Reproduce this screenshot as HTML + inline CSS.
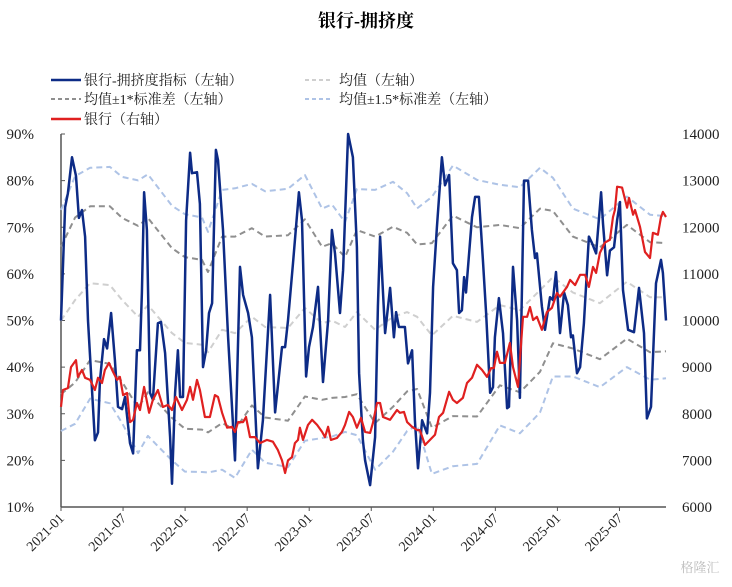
<!DOCTYPE html>
<html><head><meta charset="utf-8">
<style>
html,body{margin:0;padding:0;background:#fff;}
body{width:732px;height:582px;overflow:hidden;font-family:"Liberation Serif","Noto Serif CJK SC",serif;}
svg text{font-family:"Liberation Serif","Noto Serif CJK SC",serif;}
</style></head>
<body>
<svg id="chart" width="732" height="582" xmlns="http://www.w3.org/2000/svg">
<text x="366" y="27" text-anchor="middle" font-size="18" font-weight="bold" fill="#000">银行-拥挤度</text>
<g font-size="14" fill="#222">
 <g><line x1="51" y1="80" x2="81" y2="80" stroke="#0d2b86" stroke-width="2.5"/><text x="84" y="85">银行-拥挤度指标（左轴）</text></g>
 <g><line x1="305" y1="80" x2="333" y2="80" stroke="#cfcfcf" stroke-width="2" stroke-dasharray="4,3"/><text x="339" y="85">均值（左轴）</text></g>
 <g><line x1="51" y1="99" x2="81" y2="99" stroke="#8f8f8f" stroke-width="2" stroke-dasharray="4,3"/><text x="84" y="104">均值±1*标准差（左轴）</text></g>
 <g><line x1="305" y1="99" x2="333" y2="99" stroke="#aec3e6" stroke-width="2" stroke-dasharray="4,3"/><text x="339" y="104">均值±1.5*标准差（左轴）</text></g>
 <g><line x1="51" y1="119" x2="81" y2="119" stroke="#e02020" stroke-width="2.5"/><text x="84" y="124">银行（右轴）</text></g>
</g>
<g id="axes"></g>
<g id="series"></g>
<text x="700" y="572" text-anchor="middle" font-size="13" fill="#bbb">格隆汇</text>
</svg>
<script>
const blueWeeks=[0,1.7,2.9,4.6,6.3,7.5,8.8,10.1,11.3,14.2,15.5,16.3,18.0,19.3,21.0,22.6,23.9,25.6,26.8,28.9,30.2,31.8,33.1,33.9,34.8,36.0,37.3,38.5,40.6,41.9,43.6,45.7,46.5,47.8,49.0,49.9,51.1,52.4,54.1,54.9,57.0,58.2,59.5,60.8,62.0,63.3,64.9,65.8,67.9,70.0,72.9,75.0,76.3,78.4,80.0,82.5,84.6,87.6,89.7,92.6,93.9,95.1,97.2,99.7,101.0,102.7,103.9,105.6,107.7,109.8,111.9,113.5,114.8,116.9,118.2,120.3,122.3,124.0,124.9,126.5,127.4,129.5,131.6,132.8,133.7,135.8,137.9,139.5,140.4,141.6,144.1,145.4,147.1,148.3,149.6,151.3,153.4,154.6,155.9,157.5,159.6,160.9,162.6,164.2,165.9,166.8,168.0,168.9,169.7,172.2,173.5,175.1,176.8,178.1,179.8,181.0,181.8,183.5,185.2,186.9,187.7,189.4,191.1,192.3,194.0,195.7,197.3,198.6,199.4,201.5,202.8,204.9,206.1,207.4,209.1,210.8,212.4,213.7,214.5,216.2,217.5,219.1,221.2,222.5,224.2,226.3,227.1,228.8,230.0,231.7,233.0,234.2,235.5,237.6,240.1,242.2,244.3,245.5,247.2,249.3,251.4,252.2,253.5];
const blueValues=[50,74.3,77.3,85,81,72,73.7,68,50,24.3,26,37,46,44,51.6,41.5,31.5,31,33.6,23.7,21.5,43.6,43.6,56,77.5,69.4,34.5,33,49.4,49.7,43,25,15,34.5,43.6,33.6,33.6,71.5,86,81.6,81.8,75,40,43.6,51.6,53.7,86.6,84.4,69.4,46.4,20,61.5,55.5,51.6,46.4,18.3,28.6,55.5,30.3,44.3,44.3,50,62.3,77.5,71.5,38,44.3,48.6,57.2,36.8,50,69.4,64.4,51.6,60.8,90,85,65.7,38.7,24.3,20,14.7,25,53,68,47.3,57,46.4,51.8,48.6,48.6,40.8,43.6,28.6,18.3,28.6,25.8,34.5,57.2,70,85,79,81.2,62.3,60.8,51.6,52.2,59.3,56,72.2,76.5,76.5,63,51.6,34.5,35.7,46.4,54.8,47.3,31.2,31.5,61.5,50,33.4,80,80,69.4,63.4,64.4,53,48,55,54.4,60.4,47.3,56,53.3,46.4,46.8,38.7,40,49.4,68,66.6,64.4,77.5,70.8,59.7,65,65.7,71.5,75.4,56.5,48,47.5,57,47.3,29,31.5,58,63,60.2,50];
const redWeeks=[0,0.8,2.9,4.2,6.3,7.1,8.8,10.1,12.2,14.2,15.5,17.2,18.4,20.1,21.8,23.5,24.7,26.0,27.7,28.9,30.2,31.8,33.1,34.8,36.9,38.5,40.6,42.7,44.8,46.5,48.2,50.7,52.8,54.1,55.3,57.0,58.2,60.3,62.4,64.5,65.8,67.5,69.6,71.6,72.9,74.2,76.3,77.5,79.2,81.3,83.4,86.3,88.8,90.9,92.6,93.9,95.1,96.8,98.0,99.3,100.1,101.4,103.5,105.2,107.3,109.4,110.6,111.9,113.1,115.6,117.7,119.0,120.7,122.3,124.0,125.7,127.4,129.5,130.7,132.4,133.7,134.9,137.9,140.8,142.0,143.7,145.0,147.1,149.2,150.4,152.5,154.6,156.7,158.4,160.1,162.6,164.2,165.9,168.4,170.1,172.2,174.3,176.4,178.5,180.2,181.4,182.7,183.9,186.0,188.1,189.4,191.5,193.6,195.3,196.5,197.8,199.4,201.5,203.6,205.7,207.8,209.1,212.0,213.3,215.4,217.5,219.6,221.2,222.9,224.2,225.8,227.9,230.0,231.3,232.1,233.0,235.1,237.2,238.0,239.7,240.5,242.6,244.7,246.8,248.0,250.1,251.4,252.2,253.5];
const redValues=[8146,8510,8550,9000,9150,8790,8940,8770,8725,8510,8770,8660,8940,9090,8900,8725,8790,8400,8445,7820,7870,8230,8080,8575,8020,8300,8510,8145,8190,8080,8360,8080,8300,8575,8300,8725,8510,7930,7930,8400,8360,8020,7700,7720,7610,7820,7820,7930,7500,7500,7370,7440,7400,7220,7000,6730,7000,7070,7370,7440,7700,7440,7760,7870,7760,7610,7500,7720,7440,7480,7610,7760,8040,7930,7700,7910,7610,7590,7800,8230,8230,7930,7870,8080,8020,8040,7820,7720,7650,7650,7330,7440,7550,7930,8020,8470,8300,8230,8340,8660,8770,9050,8940,8790,8980,8980,9330,9090,9090,9520,9000,8575,10080,10080,10290,10010,10080,9800,10180,10270,10590,10510,10720,10870,10760,10980,10980,10720,11150,11020,11450,11670,11730,12220,12370,12870,12850,12420,12630,12270,12370,12010,11470,11340,11880,11840,12220,12330,12220];
const bandWeeks=[0,5.9,12.2,20.5,25.6,32.3,36.4,40.6,46.5,51.9,59.1,61.6,67.5,72.9,80.0,85.5,95.1,102.2,109.4,113.5,119.0,124.0,131.6,139.1,145.0,149.2,155.4,164.2,174.3,183.9,192.3,200.7,206.1,214.5,225.8,237.1,246.8,253.5];
const meanValues=[50,54.4,58,57.6,54.4,50.8,53.3,50.8,47.3,45.2,44.8,43.2,48,47.3,50.8,48.6,48.4,52.7,49.4,50,48.6,51.8,48,50.8,51.8,50.8,46.8,51,49.7,53.3,52.2,56.5,59.3,56,53.7,58.3,55,55];
const sdValues=[15.8,17.7,16.5,16.9,17.6,19.5,18.7,18.5,18.2,18.4,18.2,17.2,20,20.7,19,19.4,19.9,19,16.4,16.6,15,17.6,20,19.3,17,15.5,19.8,21.5,20.3,17.2,17.6,17.5,14.2,12,12,12.2,11.8,11.6];
const leftTicks=[10,20,30,40,50,60,70,80,90];
const rightTicks=[6000,7000,8000,9000,10000,11000,12000,13000,14000];
const xTickLabels=["2021-01","2021-07","2022-01","2022-07","2023-01","2023-07","2024-01","2024-07","2025-01","2025-07"];

const NS="http://www.w3.org/2000/svg";
const X0=61,X1=666,YT=134,YB=507,WMAX=253.5;
const xs=w=>X0+(X1-X0)*w/WMAX;
const yl=v=>YB-(v-10)/80*(YB-YT);
const yr=v=>YB-(v-6000)/8000*(YB-YT);
function mk(tag,attrs,parent){const e=document.createElementNS(NS,tag);for(const k in attrs)e.setAttribute(k,attrs[k]);parent.appendChild(e);return e;}
const axes=document.getElementById('axes'),series=document.getElementById('series');

let e=mk('line',{x1:X0,y1:YT,x2:X0,y2:YB,stroke:'#555','stroke-width':1.5},axes);


e=mk('line',{x1:X0,y1:YB,x2:X1,y2:YB,stroke:'#555','stroke-width':1.5},axes);


leftTicks.forEach(v=>{
 mk('line',{x1:X0,y1:yl(v),x2:X0+4,y2:yl(v),stroke:'#555','stroke-width':1},axes);
 const t=mk('text',{x:34,y:yl(v)+5,'text-anchor':'end','font-size':15,fill:'#222'},axes);
 t.textContent=v+'%';
 
 
});
rightTicks.forEach(v=>{
 const t=mk('text',{x:682,y:yr(v)+5,'font-size':15,fill:'#222'},axes);
 t.textContent=v;
 
 
});
xTickLabels.forEach((s,i)=>{
 const x=xs(i*26);
 mk('line',{x1:x,y1:YB,x2:x,y2:YB+4,stroke:'#555','stroke-width':1},axes);
 const t=mk('text',{x:x+4,y:YB+12,'text-anchor':'end','font-size':14,fill:'#222',transform:`rotate(-45 ${x+4} ${YB+12})`},axes);
 t.textContent=s;
 
 
});

function path(ws,vs,yf,color,width,dash,name){
 const d=ws.map((w,i)=>(i?'L':'M')+xs(w).toFixed(1)+','+yf(vs[i]).toFixed(1)).join('');
 const p=mk('path',{d:d,fill:'none',stroke:color,'stroke-width':width,'stroke-linejoin':'round'},series);
 if(dash)p.setAttribute('stroke-dasharray',dash);
 
 
}
const band=k=>meanValues.map((m,i)=>m+k*sdValues[i]);
path(bandWeeks,band(1.5),yl,'#aec3e6',2,'6,4','upper-1.5sd-line');
path(bandWeeks,band(-1.5),yl,'#aec3e6',2,'6,4','lower-1.5sd-line');
path(bandWeeks,band(1),yl,'#8f8f8f',2,'6,4','upper-1sd-line');
path(bandWeeks,band(-1),yl,'#8f8f8f',2,'6,4','lower-1sd-line');
path(bandWeeks,meanValues,yl,'#cfcfcf',2,'6,4','mean-line');
path(blueWeeks,blueValues,yl,'#0d2b86',2.5,null,'crowding-line');
path(redWeeks,redValues,yr,'#e02020',2.2,null,'bank-index-line');
</script>
</body></html>
